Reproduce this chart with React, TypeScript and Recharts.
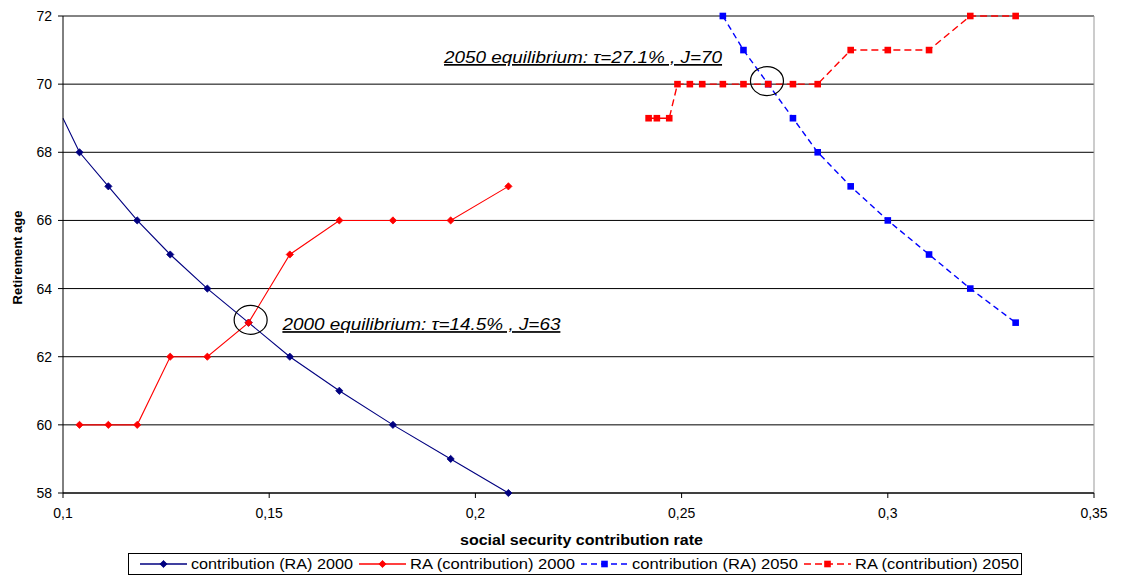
import React from "react";
import {
  LineChart,
  Line,
  XAxis,
  YAxis,
  CartesianGrid,
  Legend,
  ReferenceDot,
  ReferenceLine,
} from "recharts";

// axis ticks
const xTicks = [0.1, 0.15, 0.2, 0.25, 0.3, 0.35];
const yTicks = [58, 60, 62, 64, 66, 68, 70, 72];

// contribution (RA) 2000
const contrib2000X = [0.1, 0.104, 0.111, 0.118, 0.126, 0.135, 0.145, 0.155, 0.167, 0.18, 0.194, 0.208];
const contrib2000Y = [69, 68, 67, 66, 65, 64, 63, 62, 61, 60, 59, 58];

// RA (contribution) 2000
const ra2000X = [0.104, 0.111, 0.118, 0.126, 0.135, 0.145, 0.155, 0.167, 0.18, 0.194, 0.208];
const ra2000Y = [60, 60, 60, 62, 62, 63, 65, 66, 66, 66, 67];

// contribution (RA) 2050
const contrib2050X = [0.26, 0.265, 0.271, 0.277, 0.283, 0.291, 0.3, 0.31, 0.32, 0.331];
const contrib2050Y = [72, 71, 70, 69, 68, 67, 66, 65, 64, 63];

// RA (contribution) 2050
const ra2050X = [0.242, 0.244, 0.247, 0.249, 0.252, 0.255, 0.26, 0.265, 0.271, 0.277, 0.283, 0.291, 0.3, 0.31, 0.32, 0.331];
const ra2050Y = [69, 69, 69, 70, 70, 70, 70, 70, 70, 70, 70, 71, 71, 71, 72, 72];

// equilibrium annotations
const equilibria = [
  { cx: 0.1455, cy: 63.08, tx: 0.1532, ty: 62.78, text: "2000 equilibrium: \u03c4=14.5% , J=63" },
  { cx: 0.2707, cy: 70.09, tx: 0.1924, ty: 70.62, text: "2050 equilibrium: \u03c4=27.1% , J=70" },
];

const FONT = "'Liberation Sans', Arial, sans-serif";

const zip = (xs: number[], ys: number[]) => xs.map((x, i) => ({ x, y: ys[i] }));

const series = [
  { name: "contribution (RA) 2000", data: zip(contrib2000X, contrib2000Y), color: "#000080", dash: undefined, shape: "diamond" },
  { name: "RA (contribution) 2000", data: zip(ra2000X, ra2000Y), color: "#ff0000", dash: undefined, shape: "diamond" },
  { name: "contribution (RA) 2050", data: zip(contrib2050X, contrib2050Y), color: "#0000ff", dash: "6 4", shape: "square" },
  { name: "RA (contribution) 2050", data: zip(ra2050X, ra2050Y), color: "#ff0000", dash: "7 4", shape: "square" },
];

const Marker = ({ cx, cy, color, shape }: any) => {
  if (shape === "diamond") {
    const s = 3.6;
    return (
      <path
        d={`M${cx},${cy - s}L${cx + s},${cy}L${cx},${cy + s}L${cx - s},${cy}Z`}
        fill={color}
        stroke={color}
        strokeWidth={0.8}
      />
    );
  }
  return <rect x={cx - 3.3} y={cy - 3.3} width={6.6} height={6.6} fill={color} />;
};

const makeDot = (color: string, shape: string) => (props: any) => {
  const { cx, cy, payload, index } = props;
  // no marker drawn on the axis edge in the original
  if (payload && payload.x <= 0.1) return <g key={`d-${index}`} />;
  return <Marker key={`d-${index}`} cx={cx} cy={cy} color={color} shape={shape} />;
};

// legend: sample 47px, text widths
const legendText = [162, 165, 166, 164];

const LegendBox = () => {
  let x = 12;
  const items = series.map((s, i) => {
    const x0 = x;
    x += 51 + legendText[i] + 6;
    return (
      <g key={s.name}>
        <line x1={x0} y1={11} x2={x0 + 47} y2={11} stroke={s.color} strokeWidth={1.3} strokeDasharray={s.dash} />
        <Marker cx={x0 + 23.5} cy={11} color={s.color} shape={s.shape} />
        <text
          x={x0 + 51}
          y={16}
          textLength={legendText[i]}
          lengthAdjust="spacingAndGlyphs"
          style={{ fill: "#000", fontSize: 14, fontFamily: FONT }}
        >
          {s.name}
        </text>
      </g>
    );
  });
  return (
    <svg width={894} height={22} style={{ display: "block" }}>
      <rect x={0.5} y={0.5} width={893} height={21} fill="#fff" stroke="#000" />
      {items}
    </svg>
  );
};

export default function App() {
  return (
    <div style={{ position: "absolute", left: 0, top: 0, background: "#fff" }}>
      <LineChart width={1127} height={577} margin={{ top: 16, right: 33, left: 0, bottom: 24 }}>
        <CartesianGrid horizontal vertical={false} stroke="#000" strokeWidth={1} />
        <XAxis
          type="number"
          dataKey="x"
          domain={[0.1, 0.35]}
          ticks={xTicks}
          interval={0}
          height={60}
          stroke="#000"
          tickSize={5}
          tickMargin={10}
          tick={{ fill: "#000", fontSize: 14, fontFamily: FONT }}
          tickFormatter={(v: number) => String(v).replace(".", ",")}
          label={{
            content: ({ viewBox }: any) => (
              <text
                x={viewBox.x + viewBox.width / 2 + 3}
                y={545}
                textAnchor="middle"
                textLength={243}
                lengthAdjust="spacingAndGlyphs"
                style={{ fill: "#000", fontSize: 14, fontWeight: 700, fontFamily: FONT }}
              >
                social security contribution rate
              </text>
            ),
          }}
        />
        <YAxis
          type="number"
          domain={[58, 72]}
          ticks={yTicks}
          interval={0}
          width={63}
          stroke="#000"
          tickSize={5}
          tickMargin={6}
          tick={{ fill: "#000", fontSize: 14, fontFamily: FONT }}
          label={{
            content: ({ viewBox }: any) => {
              const x = viewBox.x + 22;
              const y = viewBox.y + viewBox.height / 2 + 3;
              return (
                <text
                  x={x}
                  y={y}
                  transform={`rotate(-90, ${x}, ${y})`}
                  textAnchor="middle"
                  style={{ fill: "#000", fontSize: 13, fontWeight: 700, fontFamily: FONT }}
                >
                  Retirement age
                </text>
              );
            },
          }}
        />
        <ReferenceLine y={72} stroke="#888" />
        <ReferenceLine x={0.35} stroke="#999" />
        {series.map((s) => (
          <Line
            key={s.name}
            name={s.name}
            data={s.data}
            dataKey="y"
            type="linear"
            stroke={s.color}
            strokeWidth={s.dash ? 1.4 : 1.1}
            strokeDasharray={s.dash}
            dot={makeDot(s.color, s.shape)}
            activeDot={false}
            isAnimationActive={false}
          />
        ))}
        {equilibria.map((e, i) => (
          <ReferenceDot
            key={`c-${i}`}
            x={e.cx}
            y={e.cy}
            r={15}
            shape={(p: any) => (
              <ellipse cx={p.cx} cy={p.cy} rx={16.5} ry={14.5} fill="none" stroke="#000" strokeWidth={1.2} />
            )}
          />
        ))}
        {equilibria.map((e, i) => (
          <ReferenceDot
            key={`t-${i}`}
            x={e.tx}
            y={e.ty}
            r={1}
            shape={(p: any) => (
              <text
                x={p.cx}
                y={p.cy}
                textAnchor="start"
                textLength={278}
                lengthAdjust="spacingAndGlyphs"
                style={{
                  fill: "#000",
                  fontSize: 17,
                  fontStyle: "italic",
                  fontFamily: FONT,
                  textDecoration: "underline",
                }}
              >
                {e.text}
              </text>
            )}
          />
        ))}
        <Legend
          layout="horizontal"
          verticalAlign="middle"
          align="center"
          content={() => <LegendBox />}
          wrapperStyle={{ left: 128, top: 553, width: 894, height: 22 }}
        />
      </LineChart>
    </div>
  );
}
